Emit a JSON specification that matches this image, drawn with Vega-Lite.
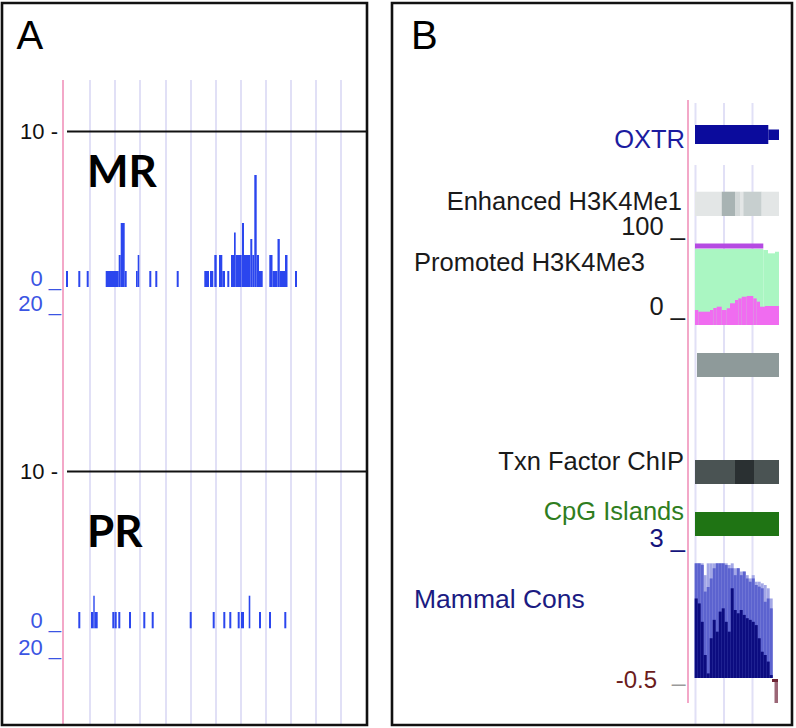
{
  "$schema": "https://vega.github.io/schema/vega-lite/v6.json",
  "width": 796,
  "height": 728,
  "autosize": {"type": "fit", "contains": "padding"},
  "padding": 0,
  "background": "white",
  "config": {"view": {"stroke": null}},
  "resolve": {"scale": {"y": "independent", "color": "independent"}},
  "datasets": {
    "vlines": [
      {"pos": 63, "top": 80, "bottom": 725, "kind": "anchor"},
      {"pos": 90, "top": 80, "bottom": 725, "kind": "grid"},
      {"pos": 115, "top": 80, "bottom": 725, "kind": "grid"},
      {"pos": 140, "top": 80, "bottom": 725, "kind": "grid"},
      {"pos": 166, "top": 80, "bottom": 725, "kind": "grid"},
      {"pos": 191, "top": 80, "bottom": 725, "kind": "grid"},
      {"pos": 216, "top": 80, "bottom": 725, "kind": "grid"},
      {"pos": 241, "top": 80, "bottom": 725, "kind": "grid"},
      {"pos": 266, "top": 80, "bottom": 725, "kind": "grid"},
      {"pos": 291, "top": 80, "bottom": 725, "kind": "grid"},
      {"pos": 316, "top": 80, "bottom": 725, "kind": "grid"},
      {"pos": 341, "top": 80, "bottom": 725, "kind": "grid"},
      {"pos": 688, "top": 100, "bottom": 703, "kind": "anchor"},
      {"pos": 695.5, "top": 103, "bottom": 125, "kind": "grid"},
      {"pos": 724, "top": 103, "bottom": 125, "kind": "grid"},
      {"pos": 752.5, "top": 103, "bottom": 125, "kind": "grid"},
      {"pos": 695.5, "top": 165, "bottom": 725, "kind": "grid"},
      {"pos": 724, "top": 165, "bottom": 725, "kind": "grid"},
      {"pos": 752.5, "top": 165, "bottom": 725, "kind": "grid"}
    ],
    "mr": [
      {"start": 66, "end": 68, "value": 1},
      {"start": 78.3, "end": 80.3, "value": 1},
      {"start": 86.7, "end": 88.7, "value": 1},
      {"start": 105.7, "end": 118.7, "value": 1},
      {"start": 118.7, "end": 120.7, "value": 2},
      {"start": 120.7, "end": 124.7, "value": 4},
      {"start": 124.7, "end": 126.7, "value": 1},
      {"start": 136, "end": 137.7, "value": 1},
      {"start": 137.7, "end": 139.3, "value": 2},
      {"start": 149.3, "end": 151.3, "value": 1},
      {"start": 155.3, "end": 157.3, "value": 1},
      {"start": 176.7, "end": 178.7, "value": 1},
      {"start": 204.3, "end": 209, "value": 1},
      {"start": 210, "end": 213.3, "value": 1},
      {"start": 214.3, "end": 216.7, "value": 2},
      {"start": 219, "end": 222.3, "value": 2},
      {"start": 222.3, "end": 225, "value": 1},
      {"start": 227.3, "end": 229.3, "value": 1},
      {"start": 231, "end": 234, "value": 2},
      {"start": 234, "end": 235.7, "value": 3.4},
      {"start": 235.7, "end": 241.7, "value": 2},
      {"start": 242, "end": 244, "value": 4},
      {"start": 244, "end": 250.3, "value": 2},
      {"start": 250.3, "end": 252.3, "value": 3},
      {"start": 252.3, "end": 254.3, "value": 2},
      {"start": 254.3, "end": 256.7, "value": 7},
      {"start": 256.7, "end": 259, "value": 2},
      {"start": 259, "end": 262.7, "value": 1},
      {"start": 269.3, "end": 272.5, "value": 2},
      {"start": 272.5, "end": 277.5, "value": 1},
      {"start": 277.5, "end": 279.8, "value": 3},
      {"start": 279.8, "end": 285, "value": 1},
      {"start": 285, "end": 287.5, "value": 2},
      {"start": 295, "end": 297, "value": 1}
    ],
    "pr": [
      {"start": 78.3, "end": 80.3, "value": 1},
      {"start": 91, "end": 93.3, "value": 1},
      {"start": 93.3, "end": 94.7, "value": 2},
      {"start": 94.7, "end": 97.7, "value": 1},
      {"start": 112.3, "end": 114.5, "value": 1},
      {"start": 114.8, "end": 116.7, "value": 1},
      {"start": 118.3, "end": 120.3, "value": 1},
      {"start": 129, "end": 131, "value": 1},
      {"start": 143.3, "end": 145.3, "value": 1},
      {"start": 151.7, "end": 153.7, "value": 1},
      {"start": 189.7, "end": 191.7, "value": 1},
      {"start": 212.7, "end": 214.7, "value": 1},
      {"start": 223.3, "end": 225.3, "value": 1},
      {"start": 229.3, "end": 231.3, "value": 1},
      {"start": 237.7, "end": 239.7, "value": 1},
      {"start": 241, "end": 244, "value": 1},
      {"start": 248.7, "end": 250.3, "value": 2},
      {"start": 259, "end": 261, "value": 1},
      {"start": 269, "end": 271, "value": 1},
      {"start": 284.3, "end": 286.3, "value": 1}
    ],
    "tracks": [
      {"feature": "gene", "x": 695, "x2": 768.3, "y": 125, "y2": 144},
      {"feature": "gene", "x": 768.3, "x2": 779, "y": 129.5, "y2": 140},
      {"feature": "enh_light", "x": 695, "x2": 721.7, "y": 191.7, "y2": 216},
      {"feature": "enh_dark", "x": 721.7, "x2": 735, "y": 191.7, "y2": 216},
      {"feature": "enh_pale", "x": 735, "x2": 740, "y": 191.7, "y2": 216},
      {"feature": "enh_light", "x": 740, "x2": 743.3, "y": 191.7, "y2": 216},
      {"feature": "enh_mid", "x": 743.3, "x2": 761.7, "y": 191.7, "y2": 216},
      {"feature": "enh_light", "x": 761.7, "x2": 779, "y": 191.7, "y2": 216},
      {"feature": "peak", "x": 695, "x2": 763.3, "y": 243.5, "y2": 248.5},
      {"feature": "segment", "x": 697, "x2": 779, "y": 353, "y2": 377},
      {"feature": "chip", "x": 695, "x2": 735, "y": 460, "y2": 484},
      {"feature": "chip_dark", "x": 735, "x2": 754, "y": 460, "y2": 484},
      {"feature": "chip", "x": 754, "x2": 779, "y": 460, "y2": 484},
      {"feature": "cpg", "x": 695, "x2": 779, "y": 512, "y2": 536},
      {"feature": "coord", "x": 772, "x2": 778, "y": 679, "y2": 682},
      {"feature": "coord_stem", "x": 774.5, "x2": 778, "y": 682, "y2": 703}
    ],
    "signal": [
      {"series": "range", "start": 695, "end": 763.3, "value": 100},
      {"series": "range", "start": 763.3, "end": 768, "value": 98.7},
      {"series": "range", "start": 768, "end": 775, "value": 94.3},
      {"series": "range", "start": 775, "end": 779, "value": 96.4},
      {"series": "mean", "start": 695, "end": 698.3, "value": 19.7},
      {"series": "mean", "start": 698.3, "end": 710, "value": 17.5},
      {"series": "mean", "start": 710, "end": 713.3, "value": 19.7},
      {"series": "mean", "start": 713.3, "end": 716.7, "value": 22.4},
      {"series": "mean", "start": 716.7, "end": 721.7, "value": 24.1},
      {"series": "mean", "start": 721.7, "end": 726.7, "value": 19.7},
      {"series": "mean", "start": 726.7, "end": 730, "value": 22},
      {"series": "mean", "start": 730, "end": 735, "value": 28.6},
      {"series": "mean", "start": 735, "end": 738.3, "value": 32.9},
      {"series": "mean", "start": 738.3, "end": 741.7, "value": 35},
      {"series": "mean", "start": 741.7, "end": 746.7, "value": 37.2},
      {"series": "mean", "start": 746.7, "end": 753.3, "value": 38.2},
      {"series": "mean", "start": 753.3, "end": 756.7, "value": 35},
      {"series": "mean", "start": 756.7, "end": 760, "value": 30.7},
      {"series": "mean", "start": 760, "end": 765, "value": 24.1},
      {"series": "mean", "start": 765, "end": 779, "value": 25}
    ],
    "cons": [
      {"start": 694.7, "end": 697.7, "high": 2.99, "mid": 2.99, "low": 1.92},
      {"start": 697.7, "end": 700.7, "high": 2.99, "mid": 2.99, "low": 1.77},
      {"start": 700.7, "end": 703.7, "high": 2.99, "mid": 2.94, "low": 1.21},
      {"start": 703.7, "end": 706.7, "high": 2.63, "mid": 2.13, "low": 0.2},
      {"start": 706.7, "end": 709.7, "high": 2.99, "mid": 2.27, "low": -0.36},
      {"start": 709.7, "end": 712.7, "high": 2.99, "mid": 2.53, "low": 0.71},
      {"start": 712.7, "end": 715.7, "high": 2.99, "mid": 2.84, "low": 1.27},
      {"start": 715.7, "end": 718.7, "high": 2.99, "mid": 2.99, "low": 0.91},
      {"start": 718.7, "end": 721.7, "high": 2.99, "mid": 2.99, "low": 1.52},
      {"start": 721.7, "end": 724.7, "high": 2.99, "mid": 2.99, "low": 1.62},
      {"start": 724.7, "end": 727.7, "high": 2.99, "mid": 2.94, "low": 1.21},
      {"start": 727.7, "end": 730.7, "high": 2.94, "mid": 2.84, "low": 0.91},
      {"start": 730.7, "end": 733.7, "high": 2.99, "mid": 2.84, "low": 2.23},
      {"start": 733.7, "end": 736.7, "high": 2.84, "mid": 2.63, "low": 1.57},
      {"start": 736.7, "end": 739.7, "high": 2.84, "mid": 2.84, "low": 1.47},
      {"start": 739.7, "end": 742.7, "high": 2.74, "mid": 2.63, "low": 1.57},
      {"start": 742.7, "end": 745.7, "high": 2.74, "mid": 2.74, "low": 1.42},
      {"start": 745.7, "end": 748.7, "high": 2.63, "mid": 2.53, "low": 1.32},
      {"start": 748.7, "end": 751.7, "high": 2.53, "mid": 2.43, "low": 1.27},
      {"start": 751.7, "end": 754.7, "high": 2.63, "mid": 2.53, "low": 1.21},
      {"start": 754.7, "end": 757.7, "high": 2.43, "mid": 2.33, "low": 1.11},
      {"start": 757.7, "end": 760.7, "high": 2.43, "mid": 2.28, "low": 0.71},
      {"start": 760.7, "end": 763.7, "high": 2.38, "mid": 2.23, "low": 0.3},
      {"start": 763.7, "end": 766.7, "high": 2.33, "mid": 1.82, "low": 0.2},
      {"start": 766.7, "end": 769.7, "high": 2.23, "mid": 1.92, "low": 0.0},
      {"start": 769.7, "end": 772.7, "high": 1.92, "mid": 1.62, "low": -0.41}
    ]
  },
  "layer": [
    {
      "data": {"name": "vlines"},
      "mark": {"type": "rule", "strokeWidth": 2},
      "encoding": {
        "x": {"field": "pos", "type": "quantitative", "scale": {"domain": [0, 796], "nice": false, "zero": false}, "axis": null},
        "y": {"field": "top", "type": "quantitative", "scale": {"domain": [0, 728], "reverse": true, "nice": false, "zero": false}, "axis": null},
        "y2": {"field": "bottom"},
        "color": {"field": "kind", "type": "nominal", "scale": {"domain": ["grid", "anchor"], "range": ["#e1e0f6", "#f3a8c8"]}, "legend": null}
      }
    },
    {
      "data": {"values": [{"from": 67, "to": 366, "level": 131.5}, {"from": 67, "to": 366, "level": 471.5}]},
      "mark": {"type": "rule", "strokeWidth": 2.2, "color": "#111111"},
      "encoding": {
        "x": {"field": "from", "type": "quantitative", "scale": {"domain": [0, 796], "nice": false, "zero": false}, "axis": null},
        "x2": {"field": "to"},
        "y": {"field": "level", "type": "quantitative", "scale": {"domain": [0, 728], "reverse": true, "nice": false, "zero": false}, "axis": null}
      }
    },
    {
      "data": {"name": "mr"},
      "mark": {"type": "rect", "color": "#2b46ee"},
      "encoding": {
        "x": {"field": "start", "type": "quantitative", "scale": {"domain": [0, 796], "nice": false, "zero": false}, "axis": null},
        "x2": {"field": "end"},
        "y": {"field": "value", "type": "quantitative", "scale": {"domain": [-27.5625, 17.9375], "nice": false, "zero": false}, "axis": null},
        "y2": {"datum": 0}
      }
    },
    {
      "data": {"name": "pr"},
      "mark": {"type": "rect", "color": "#2b46ee"},
      "encoding": {
        "x": {"field": "start", "type": "quantitative", "scale": {"domain": [0, 796], "nice": false, "zero": false}, "axis": null},
        "x2": {"field": "end"},
        "y": {"field": "value", "type": "quantitative", "scale": {"domain": [-6.1166, 38.546], "nice": false, "zero": false}, "axis": null},
        "y2": {"datum": 0}
      }
    },
    {
      "data": {"name": "tracks"},
      "mark": {"type": "rect"},
      "encoding": {
        "x": {"field": "x", "type": "quantitative", "scale": {"domain": [0, 796], "nice": false, "zero": false}, "axis": null},
        "x2": {"field": "x2"},
        "y": {"field": "y", "type": "quantitative", "scale": {"domain": [0, 728], "reverse": true, "nice": false, "zero": false}, "axis": null},
        "y2": {"field": "y2"},
        "color": {"field": "feature", "type": "nominal", "legend": null, "scale": {
          "domain": ["gene", "enh_light", "enh_dark", "enh_pale", "enh_mid", "peak", "segment", "chip", "chip_dark", "cpg", "coord", "coord_stem"],
          "range": ["#0b0b9c", "#e3e6e6", "#a8b3b3", "#d3d8d8", "#c7cfcf", "#b54be2", "#8e9a9a", "#4a5353", "#2a3032", "#1f7414", "#6e2535", "#9b6676"]}}
      }
    },
    {
      "data": {"name": "signal"},
      "mark": {"type": "rect"},
      "encoding": {
        "x": {"field": "start", "type": "quantitative", "scale": {"domain": [0, 796], "nice": false, "zero": false}, "axis": null},
        "x2": {"field": "end"},
        "y": {"field": "value", "type": "quantitative", "scale": {"domain": [-530.26, 427.63], "nice": false, "zero": false}, "axis": null},
        "y2": {"datum": 0},
        "color": {"field": "series", "type": "nominal", "legend": null, "scale": {"domain": ["range", "mean"], "range": ["#aaf6c2", "#f06cf0"]}}
      }
    },
    {
      "data": {"name": "cons"},
      "mark": {"type": "rect", "color": "#a3a7e6"},
      "encoding": {
        "x": {"field": "start", "type": "quantitative", "scale": {"domain": [0, 796], "nice": false, "zero": false}, "axis": null},
        "x2": {"field": "end"},
        "y": {"field": "high", "type": "quantitative", "scale": {"domain": [-2.0216, 20.133], "nice": false, "zero": false}, "axis": null},
        "y2": {"datum": -0.5}
      }
    },
    {
      "data": {"name": "cons"},
      "mark": {"type": "rect", "color": "#5c63cf"},
      "encoding": {
        "x": {"field": "start", "type": "quantitative", "scale": {"domain": [0, 796], "nice": false, "zero": false}, "axis": null},
        "x2": {"field": "end"},
        "y": {"field": "mid", "type": "quantitative", "scale": {"domain": [-2.0216, 20.133], "nice": false, "zero": false}, "axis": null},
        "y2": {"datum": -0.5}
      }
    },
    {
      "data": {"name": "cons"},
      "mark": {"type": "rect", "color": "#0c0c80"},
      "encoding": {
        "x": {"field": "start", "type": "quantitative", "scale": {"domain": [0, 796], "nice": false, "zero": false}, "axis": null},
        "x2": {"field": "end"},
        "y": {"field": "low", "type": "quantitative", "scale": {"domain": [-2.0216, 20.133], "nice": false, "zero": false}, "axis": null},
        "y2": {"datum": -0.5}
      }
    },
    {
      "data": {"values": [{"x": 2, "x2": 367, "y": 3, "y2": 725}, {"x": 392, "x2": 792, "y": 3, "y2": 725}]},
      "mark": {"type": "rect", "fillOpacity": 0, "stroke": "#111111", "strokeWidth": 2.6},
      "encoding": {
        "x": {"field": "x", "type": "quantitative", "scale": {"domain": [0, 796], "nice": false, "zero": false}, "axis": null},
        "x2": {"field": "x2"},
        "y": {"field": "y", "type": "quantitative", "scale": {"domain": [0, 728], "reverse": true, "nice": false, "zero": false}, "axis": null},
        "y2": {"field": "y2"}
      }
    },
    {
      "data": {"values": [{"label": "A", "x": 16.5, "y": 49}, {"label": "B", "x": 411, "y": 49}]},
      "mark": {"type": "text", "font": "Liberation Sans", "fontSize": 40, "align": "left", "baseline": "alphabetic", "color": "#000000"},
      "encoding": {
        "x": {"field": "x", "type": "quantitative", "scale": {"domain": [0, 796], "nice": false, "zero": false}, "axis": null},
        "y": {"field": "y", "type": "quantitative", "scale": {"domain": [0, 728], "reverse": true, "nice": false, "zero": false}, "axis": null},
        "text": {"field": "label"}
      }
    },
    {
      "data": {"values": [{"label": "10 -", "x": 58, "y": 132}, {"label": "10 -", "x": 58, "y": 472}]},
      "mark": {"type": "text", "font": "Liberation Sans", "fontSize": 22, "align": "right", "baseline": "middle", "color": "#111111"},
      "encoding": {
        "x": {"field": "x", "type": "quantitative", "scale": {"domain": [0, 796], "nice": false, "zero": false}, "axis": null},
        "y": {"field": "y", "type": "quantitative", "scale": {"domain": [0, 728], "reverse": true, "nice": false, "zero": false}, "axis": null},
        "text": {"field": "label"}
      }
    },
    {
      "data": {"values": [{"label": "0 _", "x": 61, "y": 286}, {"label": "20 _", "x": 61, "y": 311}, {"label": "0 _", "x": 61, "y": 627.5}, {"label": "20 _", "x": 61, "y": 655}]},
      "mark": {"type": "text", "font": "Liberation Sans", "fontSize": 22, "align": "right", "baseline": "alphabetic", "color": "#3b55e3"},
      "encoding": {
        "x": {"field": "x", "type": "quantitative", "scale": {"domain": [0, 796], "nice": false, "zero": false}, "axis": null},
        "y": {"field": "y", "type": "quantitative", "scale": {"domain": [0, 728], "reverse": true, "nice": false, "zero": false}, "axis": null},
        "text": {"field": "label"}
      }
    },
    {
      "data": {"values": [{"label": "MR", "x": 87, "y": 187}, {"label": "PR", "x": 87, "y": 547}]},
      "mark": {"type": "text", "font": "Lato", "fontWeight": "bold", "fontSize": 44, "align": "left", "baseline": "alphabetic", "color": "#000000"},
      "encoding": {
        "x": {"field": "x", "type": "quantitative", "scale": {"domain": [0, 796], "nice": false, "zero": false}, "axis": null},
        "y": {"field": "y", "type": "quantitative", "scale": {"domain": [0, 728], "reverse": true, "nice": false, "zero": false}, "axis": null},
        "text": {"field": "label"}
      }
    },
    {
      "data": {"values": [{"label": "Enhanced H3K4Me1", "x": 682, "y": 210}, {"label": "100 _", "x": 685, "y": 235}, {"label": "0 _", "x": 685, "y": 315}, {"label": "Txn Factor ChIP", "x": 684, "y": 470}]},
      "mark": {"type": "text", "font": "Liberation Sans", "fontSize": 25.5, "align": "right", "baseline": "alphabetic", "color": "#1a1a1a"},
      "encoding": {
        "x": {"field": "x", "type": "quantitative", "scale": {"domain": [0, 796], "nice": false, "zero": false}, "axis": null},
        "y": {"field": "y", "type": "quantitative", "scale": {"domain": [0, 728], "reverse": true, "nice": false, "zero": false}, "axis": null},
        "text": {"field": "label"}
      }
    },
    {
      "data": {"values": [{"label": "Promoted H3K4Me3", "x": 414, "y": 271}]},
      "mark": {"type": "text", "font": "Liberation Sans", "fontSize": 25.5, "align": "left", "baseline": "alphabetic", "color": "#1a1a1a"},
      "encoding": {
        "x": {"field": "x", "type": "quantitative", "scale": {"domain": [0, 796], "nice": false, "zero": false}, "axis": null},
        "y": {"field": "y", "type": "quantitative", "scale": {"domain": [0, 728], "reverse": true, "nice": false, "zero": false}, "axis": null},
        "text": {"field": "label"}
      }
    },
    {
      "data": {"values": [{"label": "OXTR", "x": 685, "y": 148}]},
      "mark": {"type": "text", "font": "Liberation Sans", "fontSize": 25.5, "align": "right", "baseline": "alphabetic", "color": "#1c1ca0"},
      "encoding": {
        "x": {"field": "x", "type": "quantitative", "scale": {"domain": [0, 796], "nice": false, "zero": false}, "axis": null},
        "y": {"field": "y", "type": "quantitative", "scale": {"domain": [0, 728], "reverse": true, "nice": false, "zero": false}, "axis": null},
        "text": {"field": "label"}
      }
    },
    {
      "data": {"values": [{"label": "CpG Islands", "x": 684, "y": 520}]},
      "mark": {"type": "text", "font": "Liberation Sans", "fontSize": 25.5, "align": "right", "baseline": "alphabetic", "color": "#2f7d20"},
      "encoding": {
        "x": {"field": "x", "type": "quantitative", "scale": {"domain": [0, 796], "nice": false, "zero": false}, "axis": null},
        "y": {"field": "y", "type": "quantitative", "scale": {"domain": [0, 728], "reverse": true, "nice": false, "zero": false}, "axis": null},
        "text": {"field": "label"}
      }
    },
    {
      "data": {"values": [{"label": "3 _", "x": 685, "y": 547}]},
      "mark": {"type": "text", "font": "Liberation Sans", "fontSize": 25.5, "align": "right", "baseline": "alphabetic", "color": "#14147c"},
      "encoding": {
        "x": {"field": "x", "type": "quantitative", "scale": {"domain": [0, 796], "nice": false, "zero": false}, "axis": null},
        "y": {"field": "y", "type": "quantitative", "scale": {"domain": [0, 728], "reverse": true, "nice": false, "zero": false}, "axis": null},
        "text": {"field": "label"}
      }
    },
    {
      "data": {"values": [{"label": "Mammal Cons", "x": 414, "y": 608}]},
      "mark": {"type": "text", "font": "Liberation Sans", "fontSize": 26.5, "align": "left", "baseline": "alphabetic", "color": "#1b1b82"},
      "encoding": {
        "x": {"field": "x", "type": "quantitative", "scale": {"domain": [0, 796], "nice": false, "zero": false}, "axis": null},
        "y": {"field": "y", "type": "quantitative", "scale": {"domain": [0, 728], "reverse": true, "nice": false, "zero": false}, "axis": null},
        "text": {"field": "label"}
      }
    },
    {
      "data": {"values": [{"label": "-0.5", "x": 657, "y": 688}]},
      "mark": {"type": "text", "font": "Liberation Sans", "fontSize": 24, "align": "right", "baseline": "alphabetic", "color": "#6b1c1c"},
      "encoding": {
        "x": {"field": "x", "type": "quantitative", "scale": {"domain": [0, 796], "nice": false, "zero": false}, "axis": null},
        "y": {"field": "y", "type": "quantitative", "scale": {"domain": [0, 728], "reverse": true, "nice": false, "zero": false}, "axis": null},
        "text": {"field": "label"}
      }
    },
    {
      "data": {"values": [{"label": "_", "x": 672, "y": 681}]},
      "mark": {"type": "text", "font": "Liberation Sans", "fontSize": 24, "align": "left", "baseline": "alphabetic", "color": "#9a9a9a"},
      "encoding": {
        "x": {"field": "x", "type": "quantitative", "scale": {"domain": [0, 796], "nice": false, "zero": false}, "axis": null},
        "y": {"field": "y", "type": "quantitative", "scale": {"domain": [0, 728], "reverse": true, "nice": false, "zero": false}, "axis": null},
        "text": {"field": "label"}
      }
    }
  ]
}
